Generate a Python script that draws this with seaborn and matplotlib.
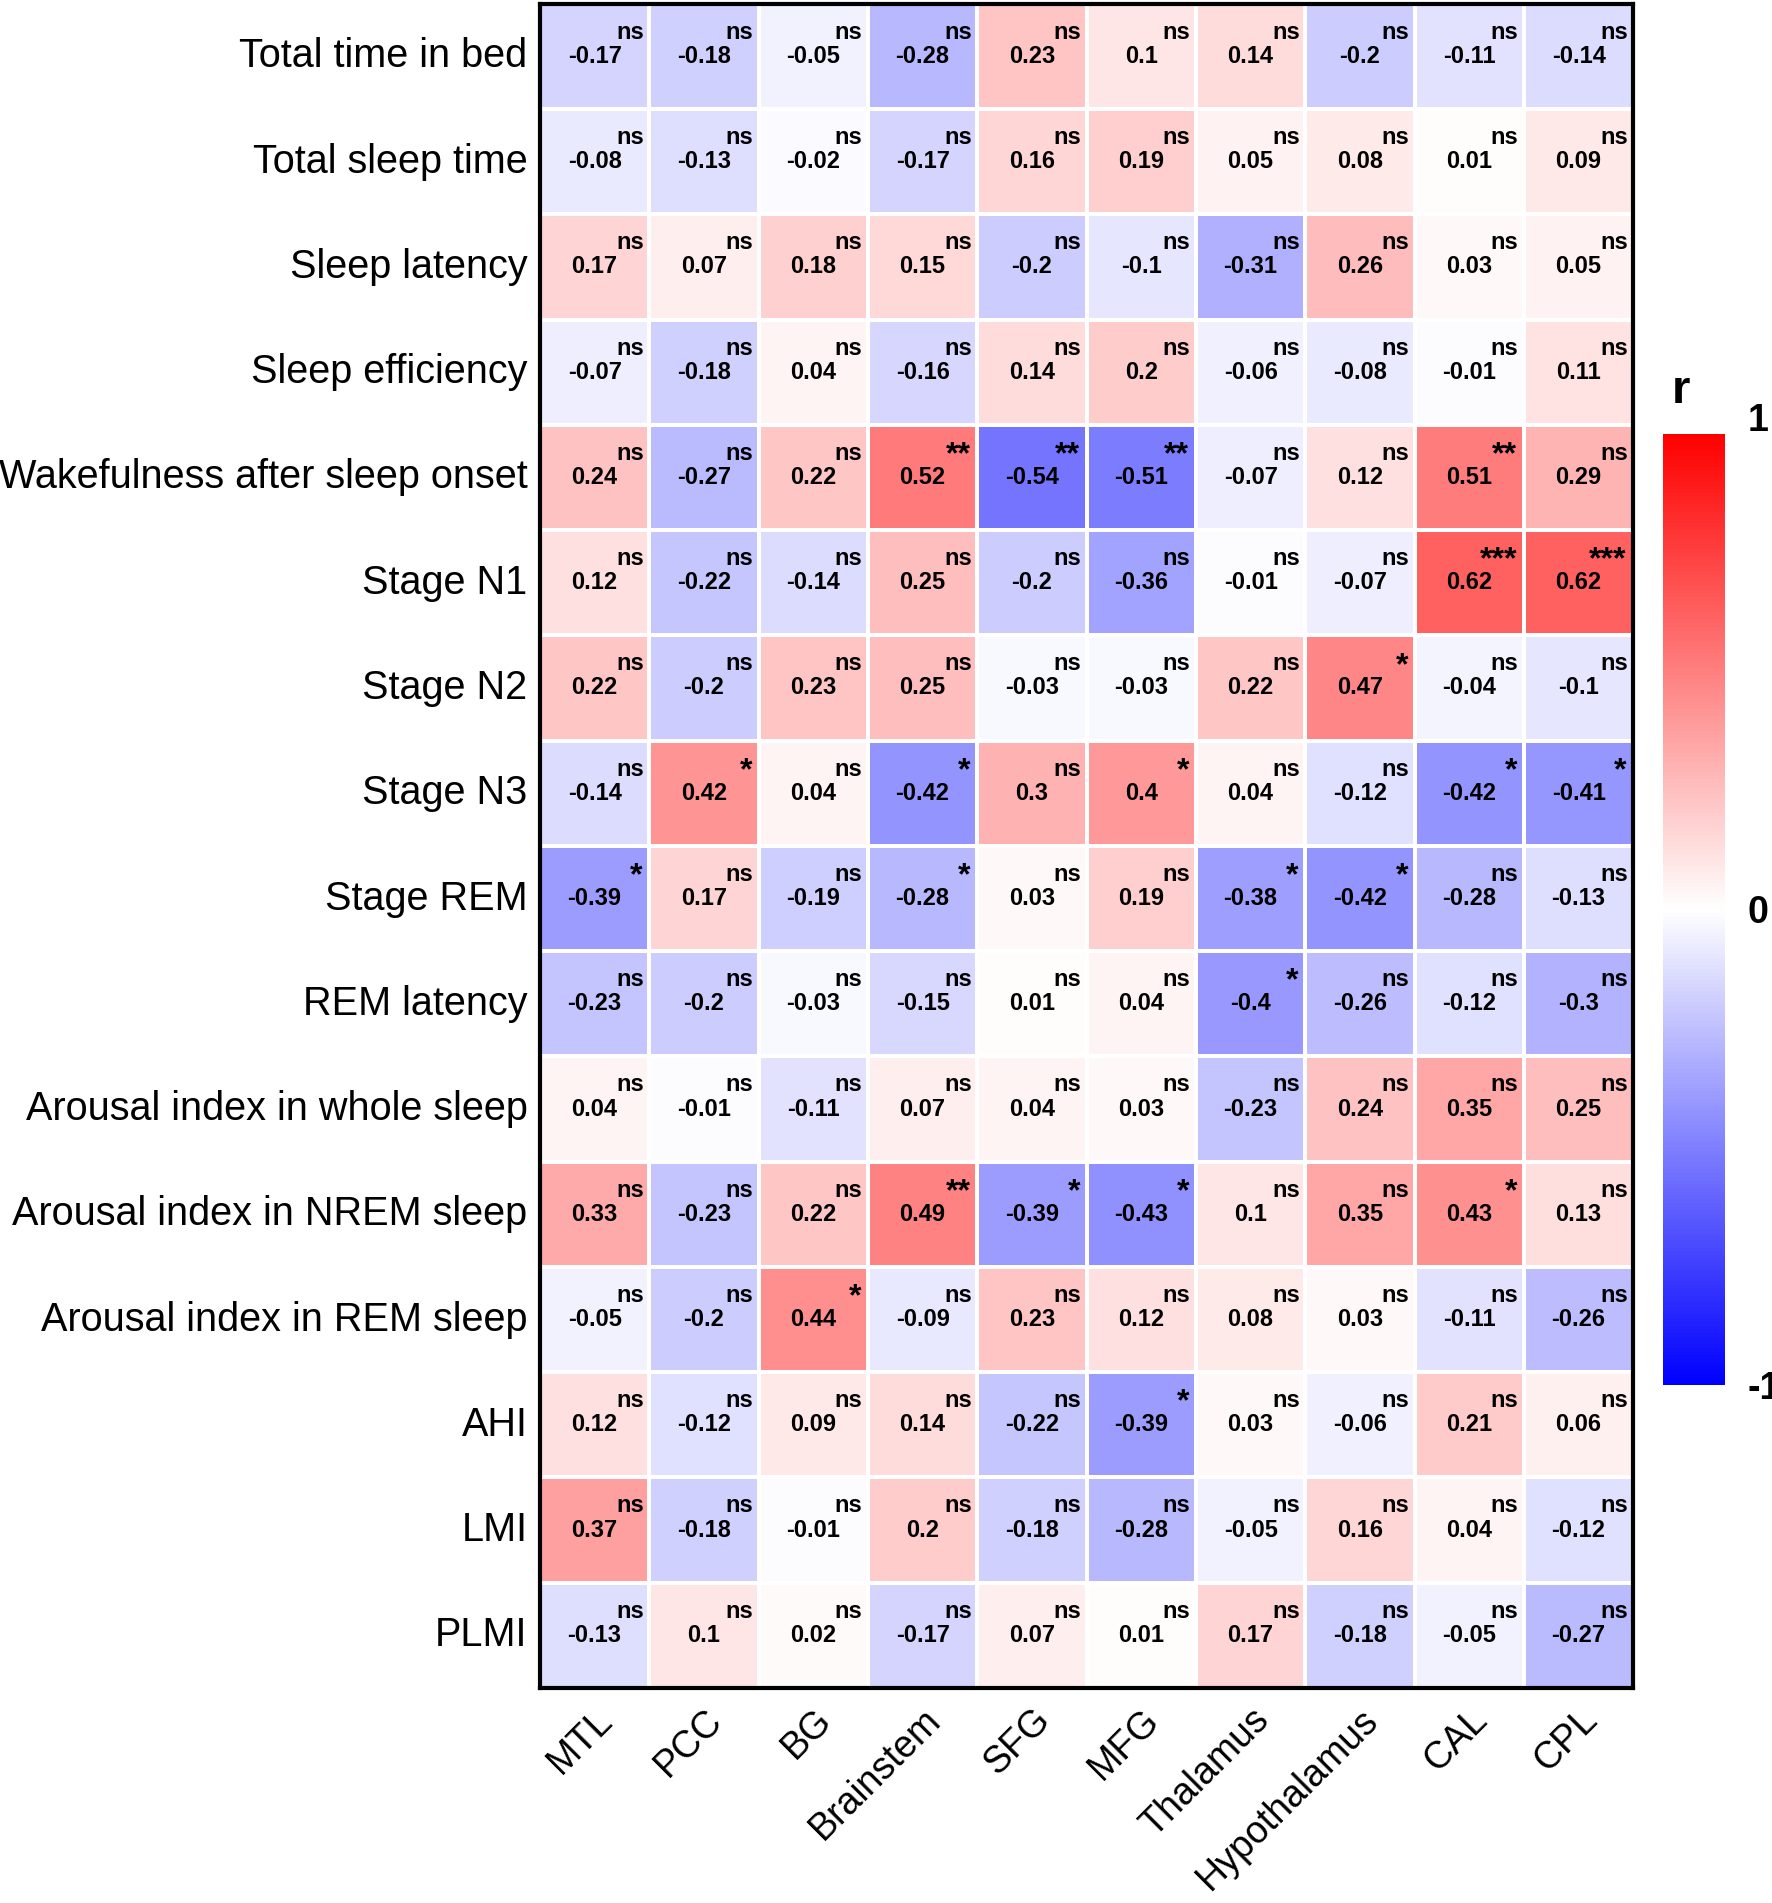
import matplotlib
matplotlib.use("Agg")
import pandas as pd
import matplotlib.pyplot as plt
import matplotlib.transforms as mtransforms
import seaborn as sns

# Regiones cerebrales (columnas) y parámetros de sueño (filas)
regions = ["MTL", "PCC", "BG", "Brainstem", "SFG", "MFG",
           "Thalamus", "Hypothalamus", "CAL", "CPL"]

sleep_params = [
    "Total time in bed", "Total sleep time", "Sleep latency", "Sleep efficiency",
    "Wakefulness after sleep onset", "Stage N1", "Stage N2", "Stage N3",
    "Stage REM", "REM latency", "Arousal index in whole sleep",
    "Arousal index in NREM sleep", "Arousal index in REM sleep",
    "AHI", "LMI", "PLMI",
]

# Coeficientes r
r_values = [
    [-0.17, -0.18, -0.05, -0.28, 0.23, 0.10, 0.14, -0.20, -0.11, -0.14],
    [-0.08, -0.13, -0.02, -0.17, 0.16, 0.19, 0.05, 0.08, 0.01, 0.09],
    [0.17, 0.07, 0.18, 0.15, -0.20, -0.10, -0.31, 0.26, 0.03, 0.05],
    [-0.07, -0.18, 0.04, -0.16, 0.14, 0.20, -0.06, -0.08, -0.01, 0.11],
    [0.24, -0.27, 0.22, 0.52, -0.54, -0.51, -0.07, 0.12, 0.51, 0.29],
    [0.12, -0.22, -0.14, 0.25, -0.20, -0.36, -0.01, -0.07, 0.62, 0.62],
    [0.22, -0.20, 0.23, 0.25, -0.03, -0.03, 0.22, 0.47, -0.04, -0.10],
    [-0.14, 0.42, 0.04, -0.42, 0.30, 0.40, 0.04, -0.12, -0.42, -0.41],
    [-0.39, 0.17, -0.19, -0.28, 0.03, 0.19, -0.38, -0.42, -0.28, -0.13],
    [-0.23, -0.20, -0.03, -0.15, 0.01, 0.04, -0.40, -0.26, -0.12, -0.30],
    [0.04, -0.01, -0.11, 0.07, 0.04, 0.03, -0.23, 0.24, 0.35, 0.25],
    [0.33, -0.23, 0.22, 0.49, -0.39, -0.43, 0.10, 0.35, 0.43, 0.13],
    [-0.05, -0.20, 0.44, -0.09, 0.23, 0.12, 0.08, 0.03, -0.11, -0.26],
    [0.12, -0.12, 0.09, 0.14, -0.22, -0.39, 0.03, -0.06, 0.21, 0.06],
    [0.37, -0.18, -0.01, 0.20, -0.18, -0.28, -0.05, 0.16, 0.04, -0.12],
    [-0.13, 0.10, 0.02, -0.17, 0.07, 0.01, 0.17, -0.18, -0.05, -0.27],
]

# Significancia de cada celda
sig = [
    ["ns"] * 10,
    ["ns"] * 10,
    ["ns"] * 10,
    ["ns"] * 10,
    ["ns", "ns", "ns", "**", "**", "**", "ns", "ns", "**", "ns"],
    ["ns", "ns", "ns", "ns", "ns", "ns", "ns", "ns", "***", "***"],
    ["ns", "ns", "ns", "ns", "ns", "ns", "ns", "*", "ns", "ns"],
    ["ns", "*", "ns", "*", "ns", "*", "ns", "ns", "*", "*"],
    ["*", "ns", "ns", "*", "ns", "ns", "*", "*", "ns", "ns"],
    ["ns", "ns", "ns", "ns", "ns", "ns", "*", "ns", "ns", "ns"],
    ["ns"] * 10,
    ["ns", "ns", "ns", "**", "*", "*", "ns", "ns", "*", "ns"],
    ["ns", "ns", "*", "ns", "ns", "ns", "ns", "ns", "ns", "ns"],
    ["ns", "ns", "ns", "ns", "ns", "*", "ns", "ns", "ns", "ns"],
    ["ns"] * 10,
    ["ns"] * 10,
]

sns.set_theme(style="white")
plt.rcParams["font.family"] = ["Liberation Sans", "DejaVu Sans"]
plt.rcParams["text.color"] = "black"
plt.rcParams["xtick.color"] = "black"
plt.rcParams["ytick.color"] = "black"

df = pd.DataFrame(r_values, index=sleep_params, columns=regions)
labels = df.map(lambda v: f"{v:g}")

fig = plt.figure(figsize=(17.72, 19.03), dpi=100)
ax = fig.add_axes([0.3047, 0.113, 0.617, 0.885])
cax = fig.add_axes([0.9385, 0.2722, 0.035, 0.4999])

sns.heatmap(
    df, ax=ax, cbar_ax=cax, cmap="bwr", vmin=-1, vmax=1,
    annot=labels, fmt="",
    annot_kws={"fontsize": 17, "fontweight": "bold", "color": "black"},
    linewidths=1.5, linecolor="white",
    cbar_kws={"ticks": [-1, 0, 1]},
)

# Etiquetas de significancia arriba a la derecha de cada celda
for j, fila in enumerate(sig):
    for i, s in enumerate(fila):
        if s == "ns":
            ax.text(i + 0.95, j + 0.27, s, ha="right", va="center",
                    fontsize=17, fontweight="bold", color="black")
        else:
            ax.text(i + 0.94, j + 0.29, s, ha="right", va="center",
                    fontsize=23, fontweight="bold", color="black")

ax.set_xlabel("")
ax.set_ylabel("")
ax.set_yticklabels(sleep_params, rotation=0, fontsize=28.5)
ax.set_xticklabels(regions, rotation=45, ha="right", rotation_mode="anchor",
                   fontsize=27)
ax.tick_params(axis="y", length=0, pad=9)
ax.tick_params(axis="x", length=0, pad=10)

for spine in ax.spines.values():
    spine.set_visible(True)
    spine.set_linewidth(3)
    spine.set_color("black")

cbar = ax.collections[0].colorbar
cbar.outline.set_visible(False)
cax.tick_params(length=0, pad=16, labelsize=27)
cax.set_yticklabels(["-1", "0", "1"], fontweight="bold")
# el "1" de arriba queda un poco por encima del borde de la barra
top_label = cax.get_yticklabels()[-1]
top_label.set_transform(top_label.get_transform()
                        + mtransforms.ScaledTranslation(0, 12 / 72, fig.dpi_scale_trans))

fig.text(1681 / 1772, 1 - 391 / 1903, "r", ha="center", va="center",
         fontsize=34, fontweight="bold")

plt.savefig("out.png", dpi=100)
